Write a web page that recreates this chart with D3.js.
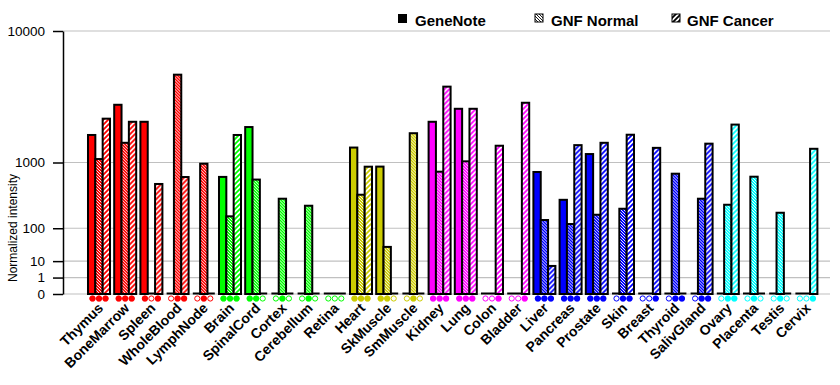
<!DOCTYPE html>
<html><head><meta charset="utf-8">
<script src="https://cdn.jsdelivr.net/npm/d3@7"></script>
<style>body{margin:0;background:#fff}svg{display:block}</style>
</head><body><svg id="c" width="840" height="385"></svg>
<script>
const categories = ["Thymus","BoneMarrow","Spleen","WholeBlood","LymphNode","Brain","SpinalCord","Cortex","Cerebellum","Retina","Heart","SkMuscle","SmMuscle","Kidney","Lung","Colon","Bladder","Liver","Pancreas","Prostate","Skin","Breast","Thyroid","SalivGland","Ovary","Placenta","Testis","Cervix"];
const categoryColors = ["#FF0000","#FF0000","#FF0000","#FF0000","#FF0000","#00FF00","#00FF00","#00FF00","#00FF00","#00FF00","#CCCC00","#CCCC00","#CCCC00","#FF00FF","#FF00FF","#FF00FF","#FF00FF","#0000FF","#0000FF","#0000FF","#0000FF","#0000FF","#0000FF","#0000FF","#00FFFF","#00FFFF","#00FFFF","#00FFFF"];
const seriesNames = ["GeneNote","GNF Normal","GNF Cancer"];
const geneNote  = [1880,3350,2450,null,null,680,2210,null,null,null,1430,900,null,2450,3120,null,null,780,330,1230,null,null,null,null,null,null,null,null];
const gnfNormal = [1090,1590,null,5470,970,174,630,343,266,null,393,33,1950,786,1030,null,null,148,123,186,237,null,744,343,276,684,202,null];
const gnfCancer = [2600,2450,553,678,null,1880,null,null,null,null,898,null,null,4540,3120,1490,3470,5.9,1510,1590,1890,1420,0,1560,2320,null,null,1390];
const yTicks = [0,1,10,100,1000,10000];

const series = [geneNote, gnfNormal, gnfCancer];
const svg = d3.select("#c");
const font = "Liberation Sans, Arial, sans-serif";

const y = d3.scalePow().exponent(Math.log10(2)).domain([0,10000]).range([294,31]);
const x = d3.scaleBand().domain(categories).range([85.9,819.5]).paddingInner(0.16).paddingOuter(0.08);
const xs = d3.scaleBand().domain([0,1,2]).range([0,x.bandwidth()]);

// patterns
const defs = svg.append("defs");
const uniq = Array.from(new Set(categoryColors)).concat(["#000000"]);
uniq.forEach(c => {
  const id = c.slice(1);
  const pn = defs.append("pattern").attr("id","pn"+id).attr("patternUnits","userSpaceOnUse").attr("width",3).attr("height",3);
  pn.append("rect").attr("width",3).attr("height",3).attr("fill", c === "#000000" ? "#fff" : c);
  pn.append("path").attr("d","M-1,-1L4,4M-1,2L1,4M2,-1L4,1").attr("stroke", c === "#000000" ? "#000" : "#fff").attr("stroke-width",0.9);
  const pc = defs.append("pattern").attr("id","pc"+id).attr("patternUnits","userSpaceOnUse").attr("width",5).attr("height",5);
  pc.append("rect").attr("width",5).attr("height",5).attr("fill","#fff");
  pc.append("path").attr("d","M-1,6L6,-1M-1,1L1,-1M4,6L6,4").attr("stroke",c).attr("stroke-width",1.8);
});
function fillFor(si, c){ return si===0 ? c : (si===1 ? `url(#pn${c.slice(1)})` : `url(#pc${c.slice(1)})`); }

// gridlines
svg.append("g").selectAll("line").data(yTicks).join("line")
  .attr("x1",63).attr("x2",830).attr("y1",d=>y(d)).attr("y2",d=>y(d))
  .attr("stroke","#C0C0C0").attr("stroke-width",1.2);

// y axis
const ya = svg.append("g").attr("transform","translate(63,0)")
  .call(d3.axisLeft(y).tickValues(yTicks).tickFormat(d3.format("d")).tickSize(10).tickSizeOuter(0).tickPadding(8));
ya.select(".domain").attr("stroke","#000").attr("stroke-width",1.5);
ya.selectAll(".tick line").attr("stroke","#000").attr("stroke-width",1.5);
ya.selectAll("text").attr("font-family",font).attr("font-size",13.5).attr("fill","#000");

svg.append("text").attr("transform","translate(17,228) rotate(-90)").attr("text-anchor","middle")
  .attr("font-family",font).attr("font-size",12).text("Normalized intensity");

// groups
const g = svg.append("g").selectAll("g").data(categories).join("g")
  .attr("transform", d => `translate(${x(d)},0)`);
g.append("line").attr("x1",0).attr("x2",x.bandwidth()).attr("y1",y(0)-0.5).attr("y2",y(0)-0.5)
  .attr("stroke","#000").attr("stroke-width",2);

categories.forEach((cat,ci) => {
  const c = categoryColors[ci];
  const grp = d3.select(g.nodes()[ci]);
  series.forEach((s,si) => {
    const v = s[ci];
    if (v !== null) {
      grp.append("rect").attr("x", xs(si)).attr("width", xs.bandwidth())
        .attr("y", y(v)).attr("height", y(0)-y(v))
        .attr("fill", fillFor(si,c)).attr("stroke","#000").attr("stroke-width",2);
    }
    const mx = x.bandwidth()/2 + (si-1)*6.5;
    if (v !== null) {
      grp.append("circle").attr("cx",mx).attr("cy",298.5).attr("r",3.1).attr("fill",c);
      grp.append("path").attr("transform",`translate(${mx},298.5)`)
        .attr("d", d3.symbol().type(d3.symbolCross).size(18)()).attr("fill",c);
    } else {
      grp.append("circle").attr("cx",mx).attr("cy",298.5).attr("r",2.6).attr("fill","#fff").attr("stroke",c).attr("stroke-width",1);
    }
  });
  grp.append("text").attr("transform",`translate(${x.bandwidth()/2+5},309) rotate(-45)`)
    .attr("text-anchor","end").attr("font-family",font).attr("font-weight","bold").attr("font-size",14).text(cat);
});

// legend
const legend = [{name:"GeneNote",x:398,tx:415},{name:"GNF Normal",x:535,tx:551},{name:"GNF Cancer",x:672,tx:687}];
legend.forEach((l,i) => {
  svg.append("rect").attr("x",l.x).attr("y",14).attr("width",i===0?9:8).attr("height",i===0?9:8)
    .attr("fill", i===0 ? "#000" : fillFor(i,"#000000")).attr("stroke","#000").attr("stroke-width",i===0?0:1);
  svg.append("text").attr("x",l.tx).attr("y",26).attr("font-family",font).attr("font-weight","bold").attr("font-size",15).text(l.name);
});
</script></body></html>
